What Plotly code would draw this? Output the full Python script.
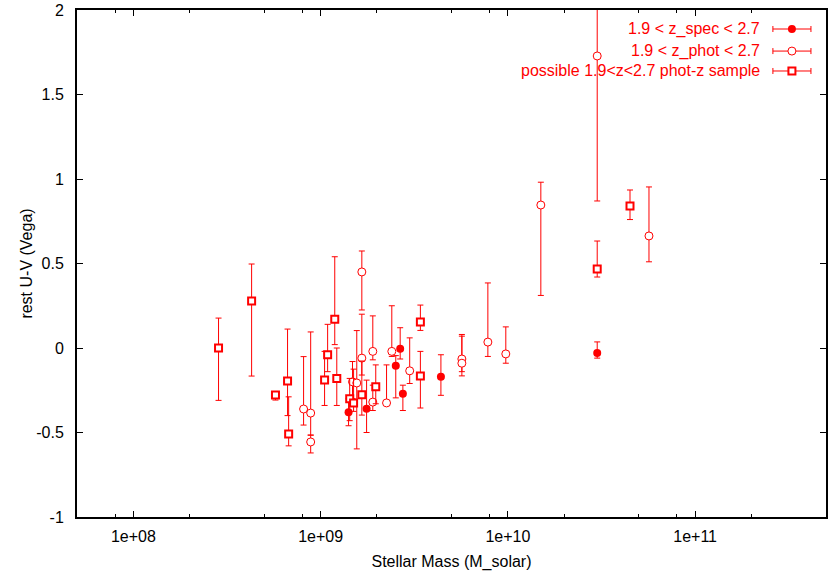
import plotly.graph_objects as go

# ---- data ----
spec_mass = [1.41e9, 1.76e9, 2.52e9, 2.66e9, 2.75e9, 4.39e9, 3.0e10]
spec_uv   = [-0.38, -0.36, -0.105, -0.005, -0.27, -0.17, -0.03]
spec_ep   = [0.08, 0.17, 0.06, 0.125, 0.05, 0.13, 0.066]
spec_em   = [0.08, 0.14, 0.19, 0.06, 0.10, 0.11, 0.03]

phot_mass = [8.11e8, 8.85e8, 8.85e8, 1.48e9, 1.56e9, 1.66e9, 1.66e9, 1.90e9, 1.90e9,
             2.25e9, 2.40e9, 2.99e9, 5.68e9, 5.68e9, 7.82e9, 9.75e9, 1.50e10, 3.0e10, 5.67e10]
phot_uv   = [-0.361, -0.385, -0.556, -0.20, -0.207, -0.06, 0.45, -0.32, -0.02,
             -0.325, -0.02, -0.135, -0.065, -0.09, 0.035, -0.035, 0.846, 1.728, 0.663]
phot_ep   = [0.31, 0.48, 0.04, 0.12, 0.31, 0.26, 0.124, 0.10, 0.21,
             0.225, 0.27, 0.195, 0.145, 0.16, 0.35, 0.16, 0.135, 0.5, 0.29]
phot_em   = [0.095, 0.13, 0.065, 0.10, 0.39, 0.10, 0.225, 0.05, 0.05,
             0.0, 0.03, 0.075, 0.075, 0.075, 0.085, 0.055, 0.535, 0.858, 0.153]

samp_mass = [2.85e8, 4.28e8, 5.74e8, 6.66e8, 6.75e8, 1.05e9, 1.09e9, 1.19e9, 1.22e9,
             1.43e9, 1.50e9, 1.66e9, 1.97e9, 3.41e9, 3.41e9, 3.0e10, 4.49e10]
samp_uv   = [0.0, 0.278, -0.278, -0.195, -0.509, -0.19, -0.04, 0.17, -0.18,
             -0.30, -0.325, -0.277, -0.23, 0.154, -0.165, 0.467, 0.84]
samp_ep   = [0.177, 0.219, 0.02, 0.307, 0.22, 0.17, 0.18, 0.37, 0.18,
             0.12, 0.20, 0.20, 0.13, 0.10, 0.145, 0.166, 0.095]
samp_em   = [0.31, 0.444, 0.03, 0.205, 0.07, 0.15, 0.10, 0.15, 0.16,
             0.13, 0.05, 0.12, 0.10, 0.05, 0.19, 0.047, 0.08]

legend_labels = ["1.9 < z_spec < 2.7", "1.9 < z_phot < 2.7", "possible 1.9<z<2.7 phot-z sample"]

x_tickvals = [1e8, 1e9, 1e10, 1e11]
x_ticktext = ["1e+08", "1e+09", "1e+10", "1e+11"]
y_tickvals = [-1, -0.5, 0, 0.5, 1, 1.5, 2]
y_ticktext = ["-1", "-0.5", "0", "0.5", "1", "1.5", "2"]

RED = "#ff0000"
FONT = "Liberation Sans, Arial, Helvetica, sans-serif"
FS = 16

def err(ep, em):
    return dict(type="data", symmetric=False, array=ep, arrayminus=em,
                color=RED, thickness=1, width=3)

fig = go.Figure()
fig.add_trace(go.Scatter(x=spec_mass, y=spec_uv, mode="markers",
                         marker=dict(symbol="circle", size=8, color=RED, line=dict(color=RED, width=0)),
                         error_y=err(spec_ep, spec_em), showlegend=False))
fig.add_trace(go.Scatter(x=phot_mass, y=phot_uv, mode="markers",
                         marker=dict(symbol="circle", size=8, color="white", line=dict(color=RED, width=1)),
                         error_y=err(phot_ep, phot_em), showlegend=False))
fig.add_trace(go.Scatter(x=samp_mass, y=samp_uv, mode="markers",
                         marker=dict(symbol="square", size=7, color="white", line=dict(color=RED, width=2)),
                         error_y=err(samp_ep, samp_em), showlegend=False))

# gnuplot-style legend (key samples on an overlay axis in paper-like units)
key_y = [0.9625, 0.919, 0.8797]
key_x = 0.9545
key_markers = [
    dict(symbol="circle", size=8, color=RED, line=dict(color=RED, width=0)),
    dict(symbol="circle", size=8, color="white", line=dict(color=RED, width=1)),
    dict(symbol="square", size=7, color="white", line=dict(color=RED, width=2)),
]
for i, lab in enumerate(legend_labels):
    fig.add_trace(go.Scatter(x=[key_x], y=[key_y[i]], mode="markers", marker=key_markers[i],
                             xaxis="x2", yaxis="y2", showlegend=False, hoverinfo="skip",
                             error_x=dict(type="constant", value=0.0254, color=RED, thickness=1, width=3)))
    fig.add_annotation(x=0.9144, y=key_y[i], xref="paper", yref="paper", text=lab,
                       showarrow=False, xanchor="right", yanchor="middle",
                       font=dict(family=FONT, size=FS, color=RED))

axis_common = dict(showline=True, linecolor="black", linewidth=2, mirror="allticks",
                   ticks="inside", ticklen=6, tickwidth=1, tickcolor="black",
                   showgrid=False, zeroline=False, automargin=False,
                   tickfont=dict(family=FONT, size=FS, color="black"))

fig.update_layout(
    width=830, height=572,
    margin=dict(l=77, r=4, t=10, b=55),
    plot_bgcolor="white", paper_bgcolor="white",
    font=dict(family=FONT, size=FS, color="black"),
    xaxis=dict(type="log", range=[7.69897, 11.69897], tickmode="array",
               tickvals=x_tickvals, ticktext=x_ticktext, ticklabelstandoff=4,
               minor=dict(tickmode="array",
                          tickvals=[m * d for d in [1e7, 1e8, 1e9, 1e10, 1e11] for m in (2, 5, 8)],
                          ticks="inside", ticklen=3, tickcolor="black", tickwidth=1),
               title=dict(text="Stellar Mass (M_solar)", font=dict(family=FONT, size=FS), standoff=12),
               **axis_common),
    yaxis=dict(range=[-1, 2], tickmode="array", tickvals=y_tickvals, ticktext=y_ticktext,
               ticklabelstandoff=8,
               title=dict(text="rest U-V (Vega)", font=dict(family=FONT, size=FS), standoff=0),
               **axis_common),
    xaxis2=dict(overlaying="x", range=[0, 1], visible=False, fixedrange=True),
    yaxis2=dict(overlaying="y", range=[0, 1], visible=False, fixedrange=True),
    showlegend=False,
)

# remove the default 8px page margin so the figure fills the window exactly
fig.write_html("out.html", config={"displayModeBar": False},
               post_script="document.body.style.margin='0';")
